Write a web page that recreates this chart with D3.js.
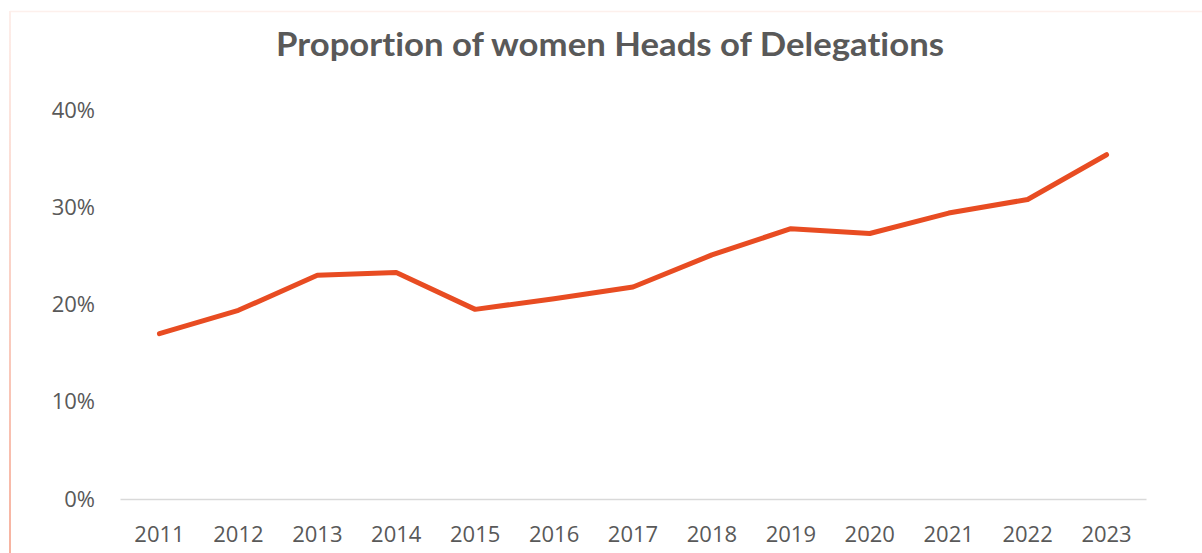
<!DOCTYPE html>
<html>
<head>
<meta charset="utf-8">
<script src="https://cdn.jsdelivr.net/npm/d3@7"></script>
<style>
  html, body { margin: 0; padding: 0; background: #ffffff; }
  svg { display: block; }
</style>
</head>
<body>
<svg id="chart" width="1202" height="553"></svg>
<script>
// Share of women among Heads of Delegations, by year
const years = ["2011","2012","2013","2014","2015","2016","2017","2018","2019","2020","2021","2022","2023"];
const shareWomen = [0.170, 0.194, 0.230, 0.233, 0.195, 0.206, 0.218, 0.251, 0.278, 0.273, 0.294, 0.308, 0.354];
const yTicks = [0, 0.1, 0.2, 0.3, 0.4];
const chartTitle = "Proportion of women Heads of Delegations";

const W = 1202, H = 553;
const margin = { left: 120, right: 56, top: 110, bottom: 54 };
const svg = d3.select("#chart");

// Chart frame: faint top edge, left edge fading from pale pink to salmon
const defs = svg.append("defs");
const grad = defs.append("linearGradient")
  .attr("id", "edgeFade").attr("x1", 0).attr("y1", 0).attr("x2", 0).attr("y2", 1);
grad.append("stop").attr("offset", "0%").attr("stop-color", "#fdeeea");
grad.append("stop").attr("offset", "100%").attr("stop-color", "#f7b3a0");

svg.append("line")
  .attr("x1", 10).attr("x2", W).attr("y1", 11.5).attr("y2", 11.5)
  .attr("stroke", "#fdf0ec").attr("stroke-width", 1.5);
svg.append("rect")
  .attr("x", 9).attr("y", 11).attr("width", 2).attr("height", H - 11)
  .attr("fill", "url(#edgeFade)");

const x = d3.scaleBand().domain(years).range([margin.left, W - margin.right]);
const y = d3.scaleLinear().domain([0, 0.4]).range([H - margin.bottom, margin.top]);

// Title
svg.append("text")
  .attr("x", 610).attr("y", 56)
  .attr("text-anchor", "middle")
  .attr("font-family", "Lato, 'Open Sans', sans-serif")
  .attr("font-weight", 700)
  .attr("font-size", 32)
  .attr("textLength", 668)
  .attr("lengthAdjust", "spacingAndGlyphs")
  .style("font-variant-ligatures", "none")
  .attr("fill", "#595959")
  .text(chartTitle);

// Y axis labels
const yAxis = d3.axisLeft(y).tickValues(yTicks).tickFormat(d3.format(".0%")).tickSize(0).tickPadding(0);
const gy = svg.append("g").attr("transform", `translate(95,0)`).call(yAxis);
gy.select(".domain").remove();
gy.selectAll("text")
  .attr("font-family", "'Open Sans', 'Noto Sans', sans-serif")
  .attr("font-size", 22)
  .attr("fill", "#595959");

// X axis baseline and year labels
const xAxis = d3.axisBottom(x).tickSize(0).tickPadding(0);
const gx = svg.append("g").attr("transform", `translate(0,${y(0)})`).call(xAxis);
gx.select(".domain").attr("stroke", "#d9d9d9").attr("stroke-width", 1.5);
gx.selectAll("text")
  .attr("dy", 0)
  .attr("y", 43)
  .attr("font-family", "'Open Sans', 'Noto Sans', sans-serif")
  .attr("font-size", 22)
  .attr("fill", "#595959");

// Series line
const line = d3.line()
  .x((d, i) => x(years[i]) + x.bandwidth() / 2)
  .y(d => y(d));

svg.append("path")
  .datum(shareWomen)
  .attr("d", line)
  .attr("fill", "none")
  .attr("stroke", "#e84c22")
  .attr("stroke-width", 5)
  .attr("stroke-linejoin", "round")
  .attr("stroke-linecap", "round");
</script>
</body>
</html>
